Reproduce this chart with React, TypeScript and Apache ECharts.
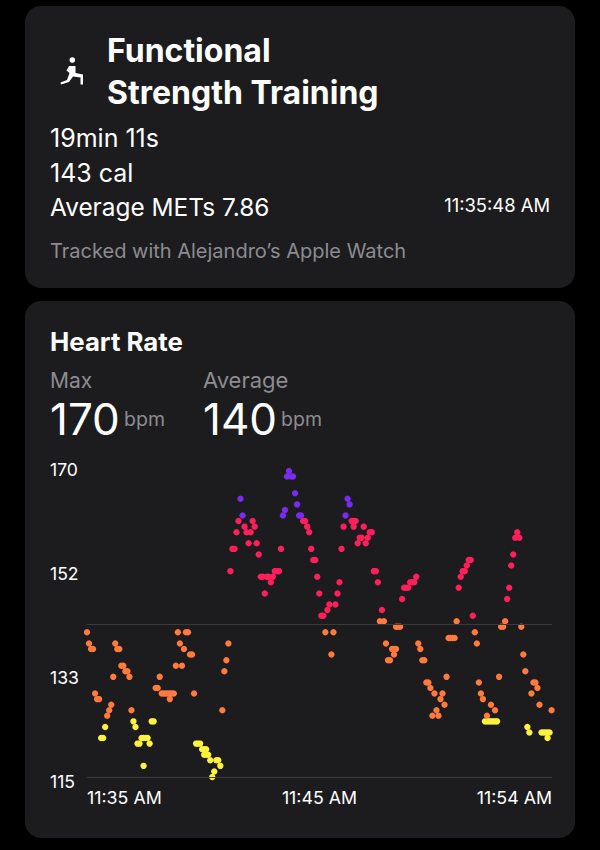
import React, { useEffect, useRef } from "react";
import * as echarts from "echarts";

const SAMPLE_SECONDS = 5;
const WORKOUT_SECONDS = 1151;

const slotsWarmup = [0,1,2,3,4,5,6,7,8,9,10,11,12,13,14,15,16,17,18,19,20,21,22,23,24,25,26,27,28,28,29,30,31,32,33,34,35,36,37,38,39,40,41,41,42,43,44,45,46,47,48,49,50,51,52,53,54,55,56,57,58,58,59,59,60,61,62,63,64,65,66,67,68,69,70];
const bpmWarmup = [141,139,138,138,130,129,129,122,122,124,126,127,128,133,139,138,138,135,135,134,134,133,127,125,124,121,121,122,122,117,122,122,121,125,125,131,131,133,130,130,130,130,130,129,130,130,135,141,139,135,138,141,141,137,137,130,121,121,121,120,120,119,120,119,119,118,115,116,118,118,117,127,134,136,139];

const slotsPeak = [71,72,73,74,75,76,77,78,79,80,81,82,83,84,85,86,87,88,89,90,91,92,93,94,95,96,97,98,99,100,101,102,103,104,105,106,107,108,109,110,111,112,113,114,115,116,117,118,119,120,121,122,123,124,125,126,127,128,129,130,131,132,132,133,134,135,136,137,138,139,140,141,142,143,144,145,146,147,148];
const bpmPeak = [152,156,156,159,161,165,162,160,159,157,159,161,160,157,155,151,151,148,151,151,150,151,152,152,152,156,162,163,169,170,169,169,166,164,162,162,161,161,160,159,156,154,154,151,148,144,144,141,145,146,137,141,146,148,150,156,160,162,165,164,161,161,160,161,157,158,158,160,157,158,159,159,152,152,150,143,145,143,139];

const slotsFinish = [149,150,151,152,152,153,153,154,155,156,157,158,159,160,161,162,163,164,165,166,167,168,169,170,171,172,173,174,175,176,177,178,179,180,181,182,183,184,185,186,187,188,189,190,191,192,193,194,195,196,197,198,198,199,200,200,201,202,202,203,204,205,206,207,208,209,210,211,212,213,214,215,216,217,218,219,220,221,222,223,224,225,226,227,228,228,229,230];
const bpmFinish = [136,136,138,138,137,138,142,142,142,147,149,149,149,150,150,150,151,139,138,136,136,132,132,131,126,130,127,126,129,130,128,133,140,140,140,140,143,149,151,152,152,153,154,154,144,141,139,132,130,129,125,125,126,125,125,128,125,125,127,125,133,142,142,143,147,149,153,155,158,159,158,142,137,134,124,123,130,132,132,131,128,123,123,123,123,122,123,127];

const slots = [...slotsWarmup, ...slotsPeak, ...slotsFinish];
const bpm = [...bpmWarmup, ...bpmPeak, ...bpmFinish];

const yTickLabels = ["115", "133", "152", "170"];
const xTickSeconds = [0, 575.5, 1151];
const xTickLabels = ["11:35 AM", "11:45 AM", "11:54 AM"];
const referenceBpm = [115, 142.5];

const FONT = "Inter, 'Noto Sans', sans-serif";
const WHITE = "#ffffff";
const GRAY = "#8c8c91";
const CARD = "#1c1c1e";

function zoneColor(v: number) {
  if (v <= 125) return "#fff23c";
  if (v <= 143) return "#ff7a3c";
  if (v <= 161) return "#ff1f5a";
  return "#7a2bf2";
}

const ICON =
  "M29 46 L35.5 46 L35.5 53 L43 54.5 L43 64.5 L40.5 64.5 L40.5 57.5 L33 56.5 L29 62 L21 64.5 L20.5 62.5 L27 60 L29.5 53 L26.5 50.5 Z";

function label(text: string, x: number, y: number, size: number, fill: string, weight: number | string = 400, align = "left") {
  return {
    type: "text",
    z: 10,
    x,
    y,
    style: {
      text,
      fill,
      fontSize: size,
      fontFamily: FONT,
      fontWeight: weight,
      align,
      verticalAlign: "middle",
      textAlign: align,
      textVerticalAlign: "middle",
    },
  };
}

export default function App() {
  const ref = useRef<HTMLDivElement>(null);
  useEffect(() => {
    document.body.style.margin = "0";
    document.body.style.background = "#000";
    echarts.graphic.registerShape("lunge", echarts.graphic.extendPath(ICON, {}));
    const chart = echarts.init(ref.current!, undefined, { renderer: "svg" });
    chart.setOption({
      animation: false,
      backgroundColor: "#000000",
      graphic: {
        elements: [
          { type: "rect", z: -10, shape: { x: 25, y: 6, width: 550, height: 282, r: 16 }, style: { fill: CARD } },
          { type: "rect", z: -10, shape: { x: 25, y: 301, width: 550, height: 537, r: 16 }, style: { fill: CARD } },
          { type: "lunge", z: 10, x: 40, y: 20, style: { fill: WHITE } },
          { type: "circle", z: 10, shape: { cx: 72.3, cy: 60, r: 2.8 }, style: { fill: WHITE } },
          label("Functional", 107, 50, 32, WHITE, 700),
          label("Strength Training", 107, 92, 32, WHITE, 700),
          label("19min 11s", 50, 138, 25, WHITE),
          label("143 cal", 50, 173, 25, WHITE),
          label("Average METs 7.86", 50, 207, 24.4, WHITE),
          label("11:35:48 AM", 550, 205, 18.4, WHITE, 400, "right"),
          label("Tracked with Alejandro\u2019s Apple Watch", 50, 251, 20, GRAY),
          label("Heart Rate", 50, 341, 25.8, WHITE, 700),
          label("Max", 50, 380, 21, GRAY),
          label("Average", 203, 380, 22, GRAY),
          label("170", 50, 419, 44, WHITE),
          label("bpm", 124, 419, 19.5, GRAY),
          label("140", 203, 419, 44, WHITE),
          label("bpm", 281, 419, 19.5, GRAY),
        ],
      },
      grid: [
        { left: 87, top: 471, width: 465, height: 306 },
        { left: 50, top: 469, width: 30, height: 312 },
      ],
      xAxis: [
        {
          type: "value",
          gridIndex: 0,
          min: 0,
          max: WORKOUT_SECONDS,
          axisLine: { show: false },
          axisTick: { show: false },
          splitLine: { show: false },
          axisLabel: {
            customValues: xTickSeconds,
            formatter: (v: number) => xTickLabels[xTickSeconds.indexOf(v)] ?? "",
            color: WHITE,
            fontFamily: FONT,
            fontSize: 17.8,
            margin: 11,
            alignMinLabel: "left",
            alignMaxLabel: "right",
          },
        },
        { type: "value", gridIndex: 1, show: false, min: 0, max: 1 },
      ],
      yAxis: [
        { type: "value", gridIndex: 0, min: 115, max: 170, show: false, splitLine: { show: false } },
        {
          type: "category",
          gridIndex: 1,
          boundaryGap: false,
          data: yTickLabels,
          axisLine: { show: false },
          axisTick: { show: false },
          splitLine: { show: false },
          axisLabel: {
            inside: true,
            margin: 0,
            color: WHITE,
            fontFamily: FONT,
            fontSize: 17.6,
            align: "left",
            interval: 0,
            showMinLabel: true,
            showMaxLabel: true,
          },
        },
      ],
      series: [
        {
          type: "scatter",
          xAxisIndex: 0,
          yAxisIndex: 0,
          symbol: "circle",
          symbolSize: 6.4,
          silent: true,
          data: slots.map((s, i) => [s * SAMPLE_SECONDS, bpm[i]]),
          itemStyle: { color: (p: any) => zoneColor(p.value[1]), opacity: 1 },
          markLine: {
            silent: true,
            symbol: "none",
            label: { show: false },
            lineStyle: { color: "#3a3a3c", width: 1, type: "solid" },
            data: referenceBpm.map((v) => ({ yAxis: v })),
          },
        },
      ],
    });
    return () => chart.dispose();
  }, []);
  return <div ref={ref} style={{ width: 600, height: 850 }} />;
}
